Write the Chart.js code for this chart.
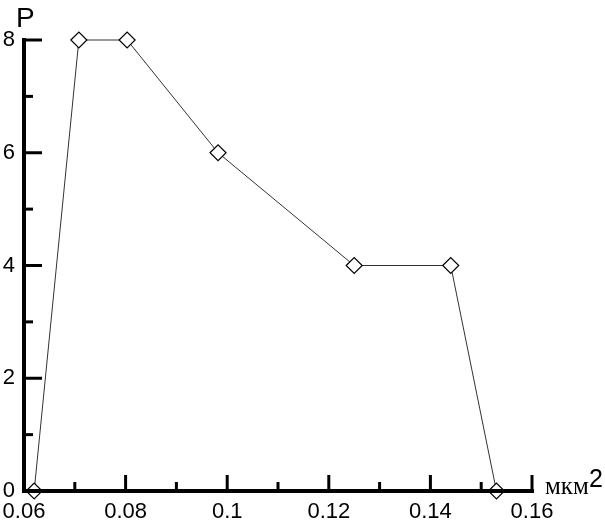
<!DOCTYPE html>
<html><head><meta charset="utf-8">
<script src="https://cdn.jsdelivr.net/npm/chart.js@4"></script>
<style>html,body{margin:0;padding:0;background:#fff}#wrap{width:605px;height:523px}</style>
</head><body><div id="wrap"><canvas id="c" width="605" height="523"></canvas></div>
<script>
const xValues = [0.062, 0.0708, 0.0803, 0.0982, 0.125, 0.144, 0.153];
const pValues = [0, 8, 8, 6, 4, 4, 0];
const xTicks = [0.06, 0.08, 0.1, 0.12, 0.14, 0.16];
const yTicks = [0, 2, 4, 6, 8];
const yTitle = 'P';
const xTitle = 'мкм';
const xTitleSup = '2';

const axisPlugin = {
  id: 'axisPlugin',
  afterDraw(chart) {
    const ctx = chart.ctx, xs = chart.scales.x, ys = chart.scales.y;
    const left = xs.left, right = xs.right, top = ys.top, bottom = ys.bottom;
    ctx.save();
    ctx.strokeStyle = '#000';
    ctx.lineCap = 'butt';
    ctx.lineWidth = 4;
    ctx.beginPath();
    ctx.moveTo(left, top - 2); ctx.lineTo(left, bottom + 2);
    ctx.moveTo(left - 2, bottom); ctx.lineTo(right + 2, bottom);
    ctx.stroke();
    ctx.lineWidth = 3;
    for (let v = 0; v <= 8; v += 1) {
      const y = ys.getPixelForValue(v);
      const len = (v % 2 === 0) ? 18 : 9;
      ctx.beginPath(); ctx.moveTo(left, y); ctx.lineTo(left + len, y); ctx.stroke();
    }
    for (let i = 0; i <= 10; i++) {
      const v = 0.06 + i * 0.01;
      const x = xs.getPixelForValue(v);
      const len = (i % 2 === 0) ? 16 : 9;
      ctx.beginPath(); ctx.moveTo(x, bottom); ctx.lineTo(x, bottom - len); ctx.stroke();
    }
    ctx.fillStyle = '#000';
    ctx.textBaseline = 'alphabetic';
    ctx.textAlign = 'left';
    ctx.font = '28px "Liberation Sans", Arial, sans-serif';
    ctx.fillText(yTitle, 16, 27);
    ctx.font = '25px "Liberation Serif", "Times New Roman", serif';
    ctx.fillText(xTitle, 545, 494);
    ctx.font = '25px "Liberation Sans", Arial, sans-serif';
    ctx.fillText(xTitleSup, 589, 487);
    ctx.restore();
  }
};

new Chart(document.getElementById('c'), {
  type: 'scatter',
  data: {
    datasets: [{
      data: xValues.map((x, i) => ({x: x, y: pValues[i]})),
      showLine: true,
      borderColor: '#333',
      borderWidth: 1,
      pointStyle: 'rectRot',
      pointRadius: 8,
      pointBorderWidth: 1.2,
      pointBorderColor: '#000',
      pointBackgroundColor: '#fff',
      clip: false
    }]
  },
  options: {
    responsive: false,
    animation: false,
    layout: { padding: { left: 0, top: 40, right: 73, bottom: 0 } },
    plugins: { legend: { display: false }, tooltip: { enabled: false } },
    scales: {
      x: {
        type: 'linear', min: 0.06, max: 0.16,
        afterBuildTicks(s) { s.ticks = xTicks.map(v => ({value: v})); },
        afterFit(s) { s.height = 32; s.paddingLeft = 0; s.paddingRight = 0; },
        grid: { display: false, drawTicks: false },
        border: { display: false },
        ticks: { color: '#000', padding: 8, maxRotation: 0, autoSkip: false,
          font: { family: '"Liberation Sans", Arial, sans-serif', size: 22 },
          callback: v => String(+v.toFixed(2)) }
      },
      y: {
        type: 'linear', min: 0, max: 8,
        afterBuildTicks(s) { s.ticks = yTicks.map(v => ({value: v})); },
        afterFit(s) { s.width = 24; s.paddingTop = 0; s.paddingBottom = 0; },
        grid: { display: false, drawTicks: false },
        border: { display: false },
        ticks: { color: '#000', padding: 9,
          font: { family: '"Liberation Sans", Arial, sans-serif', size: 22 } }
      }
    }
  },
  plugins: [axisPlugin]
});
</script></body></html>
